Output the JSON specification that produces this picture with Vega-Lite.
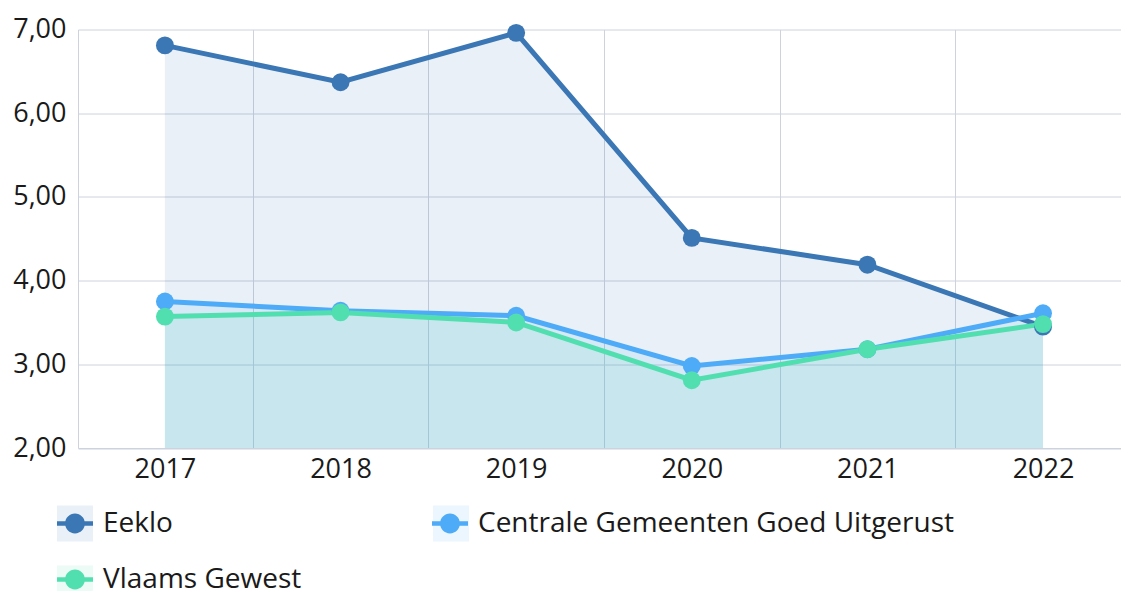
{
  "$schema": "https://vega.github.io/schema/vega-lite/v6.json",
  "width": 1043,
  "height": 418.5,
  "autosize": {"type": "none"},
  "padding": {"left": 78, "top": 29.5, "right": 0, "bottom": 143},
  "config": {
    "view": {"stroke": null},
    "font": "Open Sans",
    "axis": {"labelFont": "Open Sans", "labelColor": "#1a1a1a", "labelFontSize": 27, "gridColor": "#ccd3de", "domainColor": "#ccd3de", "gridWidth": 1, "domainWidth": 1, "ticks": false, "title": null}
  },
  "data": {
    "values": [
      {"series": "Eeklo", "year": 2017, "value": 6.81},
      {"series": "Eeklo", "year": 2018, "value": 6.37},
      {"series": "Eeklo", "year": 2019, "value": 6.96},
      {"series": "Eeklo", "year": 2020, "value": 4.51},
      {"series": "Eeklo", "year": 2021, "value": 4.19},
      {"series": "Eeklo", "year": 2022, "value": 3.45},
      {"series": "Centrale Gemeenten Goed Uitgerust", "year": 2017, "value": 3.75},
      {"series": "Centrale Gemeenten Goed Uitgerust", "year": 2018, "value": 3.64},
      {"series": "Centrale Gemeenten Goed Uitgerust", "year": 2019, "value": 3.58},
      {"series": "Centrale Gemeenten Goed Uitgerust", "year": 2020, "value": 2.98},
      {"series": "Centrale Gemeenten Goed Uitgerust", "year": 2021, "value": 3.18},
      {"series": "Centrale Gemeenten Goed Uitgerust", "year": 2022, "value": 3.61},
      {"series": "Vlaams Gewest", "year": 2017, "value": 3.57},
      {"series": "Vlaams Gewest", "year": 2018, "value": 3.62},
      {"series": "Vlaams Gewest", "year": 2019, "value": 3.50},
      {"series": "Vlaams Gewest", "year": 2020, "value": 2.81},
      {"series": "Vlaams Gewest", "year": 2021, "value": 3.18},
      {"series": "Vlaams Gewest", "year": 2022, "value": 3.48}
    ]
  },
  "encoding": {
    "x": {
      "field": "year",
      "type": "quantitative",
      "scale": {"domain": [2016.505, 2022.444], "nice": false, "zero": false},
      "axis": {
        "values": [2017, 2017.5, 2018, 2018.5, 2019, 2019.5, 2020, 2020.5, 2021, 2021.5, 2022],
        "grid": true,
        "gridOpacity": {"condition": {"test": "datum.value % 1 !== 0", "value": 1}, "value": 0},
        "labelExpr": "datum.value % 1 === 0 ? format(datum.value, 'd') : ''",
        "labelOverlap": false,
        "labelPadding": 8,
        "domain": true
      }
    },
    "y": {
      "field": "value",
      "type": "quantitative",
      "scale": {"domain": [2, 7], "nice": false, "zero": false},
      "stack": null,
      "axis": {
        "values": [2, 3, 4, 5, 6, 7],
        "grid": true,
        "domain": true,
        "labelPadding": 12,
        "labelExpr": "replace(format(datum.value, '.2f'), '.', ',')"
      }
    }
  },
  "layer": [
    {
      "mark": {"type": "area", "fillOpacity": 0.11},
      "encoding": {
        "y2": {"datum": 2},
        "fill": {
          "field": "series",
          "type": "nominal",
          "sort": null,
          "scale": {"range": ["#3a77b4", "#4dabf7", "#51dfb0"]},
          "legend": {
            "orient": "none", "legendX": -21, "legendY": 476, "columns": 2, "direction": "horizontal", "title": null,
            "symbolType": "square", "symbolSize": 1296, "symbolOpacity": 0.11, "symbolStrokeWidth": 0,
            "labelFontSize": 28, "labelFont": "Open Sans", "labelOffset": 10, "labelExpr": "''",
            "columnPadding": 330, "rowPadding": 24, "padding": 0
          }
        }
      }
    },
    {
      "mark": {"type": "line", "strokeWidth": 5},
      "encoding": {
        "color": {
          "field": "series",
          "type": "nominal",
          "scale": {"domain": ["Eeklo", "Centrale Gemeenten Goed Uitgerust", "Vlaams Gewest"], "range": ["#3a77b4", "#4dabf7", "#51dfb0"]},
          "legend": {
            "orient": "none", "legendX": -21, "legendY": 476, "columns": 2, "direction": "horizontal", "title": null,
            "symbolType": "M-1,-0.13H1V0.13H-1Z M0.55,0A0.55,0.55 0 1,1 -0.55,0A0.55,0.55 0 1,1 0.55,0Z",
            "symbolSize": 1296, "symbolStrokeWidth": 0,
            "labelFontSize": 28, "labelFont": "Open Sans", "labelColor": "#1a1a1a", "labelOffset": 10, "labelLimit": 1000,
            "columnPadding": 130, "rowPadding": 24, "padding": 0,
            "encode": {"symbols": {"update": {"fill": {"scale": "color", "field": "value"}, "opacity": {"value": 1}}}}
          }
        }
      }
    },
    {
      "mark": {"type": "point", "filled": true, "size": 320, "opacity": 1},
      "encoding": {
        "color": {"field": "series", "type": "nominal"}
      }
    }
  ]
}
